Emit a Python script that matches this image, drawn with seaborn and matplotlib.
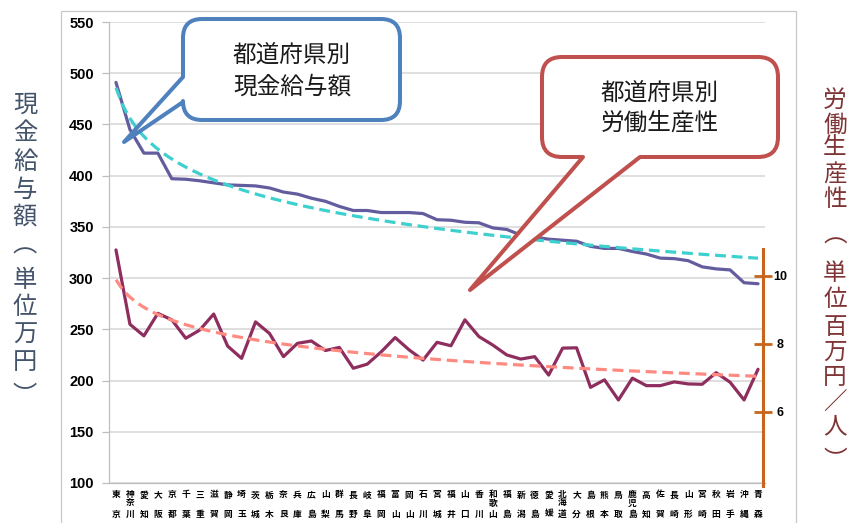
import numpy as np
import matplotlib
matplotlib.use("Agg")
import matplotlib.pyplot as plt
from matplotlib.path import Path
from matplotlib.patches import PathPatch, Rectangle
import seaborn as sns

# Prefectures, ordered by average monthly cash earnings
prefectures = ["東京", "神奈川", "愛知", "大阪", "京都", "千葉", "三重", "滋賀", "静岡", "埼玉",
               "茨城", "栃木", "奈良", "兵庫", "広島", "山梨", "群馬", "長野", "岐阜", "福岡",
               "富山", "岡山", "石川", "宮城", "福井", "山口", "香川", "和歌山", "福島", "新潟",
               "徳島", "愛媛", "北海道", "大分", "島根", "熊本", "鳥取", "鹿児島", "高知", "佐賀",
               "長崎", "山形", "宮崎", "秋田", "岩手", "沖縄", "青森"]

# 現金給与額 (万円)
cash_wages = [491, 445, 422, 422, 397, 396.5, 395, 393, 391, 390.5,
              390, 388, 384, 382, 378, 375, 370, 366, 366, 364,
              364, 364, 363, 357, 356.5, 354.5, 354, 349, 347.5, 342,
              340, 338, 337, 336, 331, 329, 329, 326, 323.5, 319.5,
              319, 317, 311, 309, 308, 295.5, 294.5]

# 労働生産性 (百万円/人)
productivity = [10.75, 8.57, 8.23, 8.89, 8.70, 8.16, 8.40, 8.87, 7.93, 7.57,
                8.64, 8.30, 7.62, 8.01, 8.08, 7.80, 7.89, 7.28, 7.40, 7.76,
                8.18, 7.82, 7.52, 8.04, 7.94, 8.70, 8.21, 7.96, 7.67, 7.55,
                7.62, 7.08, 7.87, 7.88, 6.72, 6.94, 6.35, 6.99, 6.77, 6.77,
                6.88, 6.82, 6.81, 7.15, 6.87, 6.35, 7.25]

left_ticks = [100, 150, 200, 250, 300, 350, 400, 450, 500, 550]
right_ticks = [6, 8, 10]

sns.set_theme(style="white")
plt.rcParams["font.family"] = ["Noto Sans CJK JP", "DejaVu Sans"]

W, H = 851, 523
fig = plt.figure(figsize=(W / 100, H / 100), dpi=100)


def fx(x):
    return x / W


def fy(y):
    return 1 - y / H


# outer chart frame
fig.add_artist(Rectangle((fx(61), fy(540)), fx(796) - fx(61), fy(11) - fy(540),
                         transform=fig.transFigure, fill=False,
                         edgecolor="#C8C8C8", lw=0.9))

ax = fig.add_axes([fx(109), fy(483), fx(765) - fx(109), fy(22) - fy(483)])
pos = np.arange(1, len(prefectures) + 1)

wage_color = "#635D9F"
wage_trend = "#3ECFCF"
prod_color = "#8E2E5E"
prod_trend = "#FF8A82"
axis_orange = "#C8651B"

sns.lineplot(x=pos, y=cash_wages, ax=ax, color=wage_color, lw=2.3, zorder=3)
sns.regplot(x=pos, y=cash_wages, ax=ax, logx=True, scatter=False, ci=None,
            line_kws=dict(color=wage_trend, lw=2.3, dashes=(3.4, 1.8), zorder=4))

ax.set_xlim(0.5, len(prefectures) + 0.5)
ax.set_ylim(100, 550)
ax.set_yticks(left_ticks)
ax.yaxis.grid(True, color="#D9D9D9", lw=1.2)
ax.xaxis.grid(False)
ax.set_axisbelow(True)
for side in ["top", "right"]:
    ax.spines[side].set_visible(False)
for side in ["left", "bottom"]:
    ax.spines[side].set_color("#BFBFBF")
    ax.spines[side].set_linewidth(0.9)
ax.tick_params(axis="y", direction="out", length=5, color="#BFBFBF", width=0.9,
               pad=6, labelsize=10.5, labelcolor="black")
for lab in ax.get_yticklabels():
    lab.set_fontfamily(["Liberation Sans", "DejaVu Sans"])
    lab.set_fontweight("bold")
ax.set_xticks(np.arange(0.5, len(prefectures) + 1, 1))
ax.set_xticklabels([])
ax.tick_params(axis="x", direction="out", length=4, color="#BFBFBF", width=0.9)
ax.set_xlabel("")
ax.set_ylabel("")

# vertical category labels
xt = ax.get_xaxis_transform()
ax_h = 483 - 22
for p, name in zip(pos, prefectures):
    rows = [(name[0], 495), (name[-1], 514)]
    if len(name) == 3:
        rows.append((name[1], 503))
    for ch, ypx in rows:
        ax.text(p, (483 - ypx) / ax_h, ch, transform=xt, ha="center", va="center",
                fontsize=6.3, fontweight="bold", color="black", clip_on=False)

# secondary axis for productivity
ax2 = ax.twinx()
sns.lineplot(x=pos, y=productivity, ax=ax2, color=prod_color, lw=2.3, zorder=3)
sns.regplot(x=pos, y=productivity, ax=ax2, logx=True, scatter=False, ci=None,
            line_kws=dict(color=prod_trend, lw=2.3, dashes=(3.4, 1.8), zorder=4))
ax2.set_ylim(3.915, 17.434)
ax2.set_xlim(0.5, len(prefectures) + 0.5)
ax2.set_ylabel("")
ax2.set_xlabel("")
for side in ["top", "left", "bottom"]:
    ax2.spines[side].set_visible(False)
ax2.spines["right"].set_position(("axes", (763 - 109) / (765 - 109)))
ax2.spines["right"].set_bounds(3.83, 10.78)
ax2.spines["right"].set_color(axis_orange)
ax2.spines["right"].set_linewidth(2.2)
ax2.set_yticks(right_ticks)
ax2.tick_params(axis="y", direction="inout", length=13, width=2, color=axis_orange,
                pad=5.8, labelsize=9, labelcolor="black")
for lab in ax2.get_yticklabels():
    lab.set_fontfamily(["Liberation Sans", "DejaVu Sans"])
    lab.set_fontweight("bold")
    lab.set_horizontalalignment("center")
ax2.grid(False)


# speech-bubble callouts
def bubble(L, T, R, B, r, tail_side, tail_pts, edge):
    verts = [(L + r, T), (R - r, T), (R, T), (R, T + r), (R, B - r), (R, B), (R - r, B)]
    codes = [Path.MOVETO, Path.LINETO, Path.CURVE3, Path.CURVE3, Path.LINETO,
             Path.CURVE3, Path.CURVE3]
    if tail_side == "bottom":
        for pt in tail_pts:
            verts.append(pt)
            codes.append(Path.LINETO)
    verts += [(L + r, B), (L, B), (L, B - r)]
    codes += [Path.LINETO, Path.CURVE3, Path.CURVE3]
    if tail_side == "left":
        for pt in tail_pts:
            verts.append(pt)
            codes.append(Path.LINETO)
    verts += [(L, T + r), (L, T), (L + r, T), (L + r, T)]
    codes += [Path.LINETO, Path.CURVE3, Path.CURVE3, Path.CLOSEPOLY]
    verts = [(fx(x), fy(y)) for x, y in verts]
    patch = PathPatch(Path(verts, codes), transform=fig.transFigure,
                      facecolor="white", edgecolor=edge, lw=2.9,
                      joinstyle="round", zorder=10)
    fig.add_artist(patch)


bubble(183, 19, 400, 120, 19, "left", [(183, 102), (124, 142), (183, 77)], "#4F81BD")
bubble(542, 57, 778, 157, 20, "bottom", [(640, 157), (470, 290), (583, 157)], "#C0504D")

for txt, x, y in [("都道府県別", 292, 55), ("現金給与額", 292, 87),
                  ("都道府県別", 660, 93), ("労働生産性", 660, 123)]:
    fig.text(fx(x), fy(y), txt, ha="center", va="center", fontsize=17,
             color="#1A1A1A", zorder=11)

# stacked axis titles (vertical bracket glyphs sit off-centre in their cells,
# so their anchor points are nudged to keep the arcs where they belong)
left_title = [("現", 105), ("金", 133), ("給", 162), ("与", 190), ("額", 217),
              ("︵", 245), ("単", 280), ("位", 307), ("万", 335), ("円", 362), ("︶", 396)]
for ch, y in left_title:
    fig.text(fx(25), fy(y), ch, ha="center", va="center", fontsize=17.5, color="#44546A")

right_title = [("労", 100), ("働", 125), ("生", 148), ("産", 175), ("性", 200),
               ("︵", 236), ("単", 273), ("位", 300), ("百", 327), ("万", 352),
               ("円", 377), ("／", 403), ("人", 427), ("︶", 461)]
for ch, y in right_title:
    fig.text(fx(835), fy(y), ch, ha="center", va="center", fontsize=17, color="#7F3535")

fig.savefig("out.png", dpi=100)
